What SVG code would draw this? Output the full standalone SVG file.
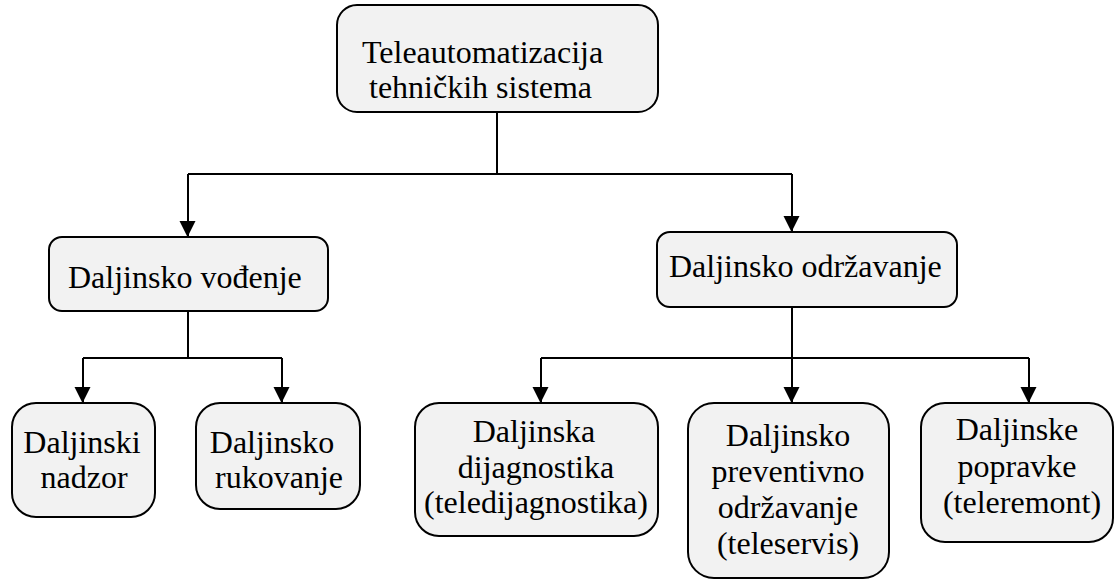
<svg xmlns="http://www.w3.org/2000/svg" width="1114" height="579" viewBox="0 0 1114 579">
<style>
.box{fill:#f2f2f2;stroke:#000;stroke-width:2}
.c{text-anchor:middle}
.ln{fill:none;stroke:#000;stroke-width:2}
</style>
<defs>
<marker id="arr" viewBox="0 0 16 17" refX="16" refY="8" markerWidth="16" markerHeight="17" markerUnits="userSpaceOnUse" orient="auto">
<path d="M0,0 L16,8 L0,16 Z" fill="#000" transform="translate(0,0.5)"/>
</marker>
</defs>
<rect width="1114" height="579" fill="#fff"/>
<g id="connectors">
<path class="ln" d="M497,112 V174"/>
<path class="ln" d="M188,174 H792"/>
<path class="ln" d="M188,174 V237" marker-end="url(#arr)"/>
<path class="ln" d="M792,174 V232" marker-end="url(#arr)"/>
<path class="ln" d="M188,311 V358 M83,358 H282"/>
<path class="ln" d="M83,358 V403" marker-end="url(#arr)"/>
<path class="ln" d="M282,358 V403" marker-end="url(#arr)"/>
<path class="ln" d="M792,307 V358 M541,358 H1029"/>
<path class="ln" d="M541,358 V403" marker-end="url(#arr)"/>
<path class="ln" d="M792,358 V403" marker-end="url(#arr)"/>
<path class="ln" d="M1029,358 V403" marker-end="url(#arr)"/>
</g>
<g font-family="Liberation Serif, Tinos, DejaVu Serif, Times New Roman, serif" font-size="32" fill="#000">
<g id="n-root">
<rect class="box" x="337" y="5" width="321" height="107" rx="20"/>
<text x="362" y="63">Teleautomatizacija</text>
<text x="369" y="98">tehničkih sistema</text>
</g>
<g id="n-vodjenje">
<rect class="box" x="49" y="237" width="279" height="74" rx="13"/>
<text x="68" y="288">Daljinsko vođenje</text>
</g>
<g id="n-odrzavanje">
<rect class="box" x="657" y="232" width="300" height="75" rx="13"/>
<text x="669" y="277">Daljinsko održavanje</text>
</g>
<g id="n-nadzor">
<rect class="box" x="12" y="403" width="143" height="114" rx="24"/>
<text class="c" x="82" y="453">Daljinski</text>
<text class="c" x="84" y="488">nadzor</text>
</g>
<g id="n-rukovanje">
<rect class="box" x="196" y="403" width="164" height="106" rx="24"/>
<text class="c" x="272" y="453">Daljinsko</text>
<text class="c" x="279" y="488">rukovanje</text>
</g>
<g id="n-dijagnostika">
<rect class="box" x="415" y="403" width="243" height="133" rx="24"/>
<text class="c" x="534" y="442">Daljinska</text>
<text class="c" x="536" y="478">dijagnostika</text>
<text class="c" x="536" y="513">(teledijagnostika)</text>
</g>
<g id="n-preventivno">
<rect class="box" x="688" y="403" width="201" height="175" rx="26"/>
<text class="c" x="788" y="446">Daljinsko</text>
<text class="c" x="788" y="482">preventivno</text>
<text class="c" x="788" y="518">održavanje</text>
<text class="c" x="788" y="554">(teleservis)</text>
</g>
<g id="n-popravke">
<rect class="box" x="921" y="403" width="192" height="139" rx="24"/>
<text class="c" x="1017" y="440">Daljinske</text>
<text class="c" x="1017" y="477">popravke</text>
<text class="c" x="1022" y="513">(teleremont)</text>
</g>
</g>
</svg>
